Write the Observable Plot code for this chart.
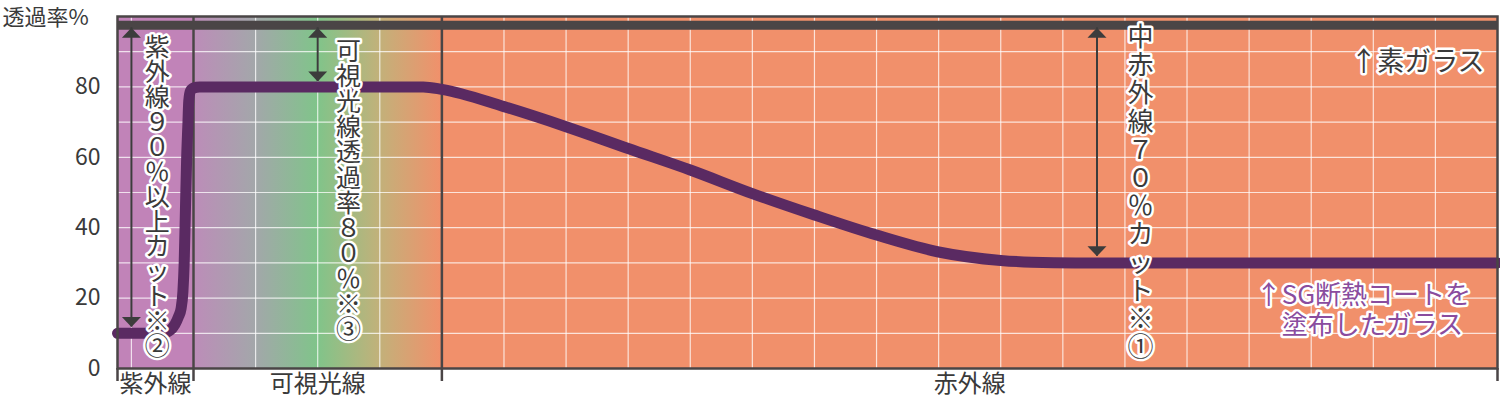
<!DOCTYPE html>
<html><head><meta charset="utf-8">
<script src="https://cdn.jsdelivr.net/npm/d3@7"></script>
<script src="https://cdn.jsdelivr.net/npm/@observablehq/plot@0.6"></script>
<style>body{margin:0;background:#fff}</style>
</head><body><div id="chart"></div>
<script>
// ---- data ----
const bandNames = ["紫外線", "可視光線", "赤外線"];
const bandStart = [257.6, 380, 780];   // nm
const bandEnd   = [380, 780, 2480];    // nm
const yTicks = [0, 20, 40, 60, 80];
const plainGlass = 97.5;               // 素ガラス 透過率
const sgWavelength = [257.6, 330, 342, 350, 356, 360, 363, 365, 367, 369, 370.8, 372.4, 375, 380, 390, 500, 600, 700, 750, 780, 880, 980, 1080, 1180, 1280, 1380, 1480, 1580, 1680, 1730, 1800, 2000, 2480];
const sgTransmission = [10, 10, 10.8, 12.5, 14.8, 17, 22, 30, 45, 60, 68.6, 76, 78.8, 79.7, 80, 80, 80, 80, 80, 79.3, 74.4, 68.7, 62.5, 56.4, 49.7, 43.6, 37.9, 33.1, 30.7, 30.2, 30, 30, 30];
const noteTexts = ["紫外線９０％以上カット※②", "可視光線透過率８０％※③", "中赤外線７０％カット※①"];
const noteArrowX = [280, 580, 1835];
const noteArrowLow = [11.8, 81.5, 31.9];

// ---- derived tables ----
const bands = bandNames.map((n, i) => ({name: n, x1: bandStart[i], x2: bandEnd[i]}));
const sg = sgWavelength.map((w, i) => ({w, t: sgTransmission[i]}));
const arrows = noteArrowX.map((x, i) => ({x, y1: noteArrowLow[i], y2: 96.8}));

const dark = "#4a4546";
const textDark = "#3a3a3a";
const font = "'Noto Sans CJK JP', 'Noto Sans', sans-serif";
const bandFill = ["#c183b8", "url(#visGrad)", "#f1906b"];
const noteX = [321.5, 629.6, 1905];
const noteY = [48.5, 50.4, 50.1];
const noteSize = [25, 25, 26];
const noteLineHeight = [0.995, 1.012, 1.085];

const headUp = {draw(ctx) { ctx.moveTo(0, 0); ctx.lineTo(9.5, 10); ctx.lineTo(-9.5, 10); ctx.closePath(); }};
const headDown = {draw(ctx) { ctx.moveTo(0, 0); ctx.lineTo(9.5, -10); ctx.lineTo(-9.5, -10); ctx.closePath(); }};

const outline = {stroke: "white", strokeWidth: 5, paintOrder: "stroke", strokeLinejoin: "round", fontFamily: font};
const vtext = s => Array.from(s).join("\n");

const svg = Plot.plot({
  width: 1500, height: 407,
  marginTop: 16, marginBottom: 39, marginLeft: 117, marginRight: 3,
  style: {fontFamily: font, background: "white", overflow: "visible"},
  x: {type: "linear", domain: [257.6, 2480], axis: null},
  y: {domain: [0, 100], axis: null},
  marks: [
    Plot.rect(bands, {x1: "x1", x2: "x2", y1: 0, y2: 100, fill: (d, i) => bandFill[i]}),
    Plot.gridX({ticks: d3.range(280, 2481, 100), stroke: "white", strokeOpacity: 0.75, strokeWidth: 1.2}),
    Plot.gridY({ticks: d3.range(10, 100, 10), stroke: "white", strokeOpacity: 0.75, strokeWidth: 1.2}),
    Plot.ruleX([380, 780], {y1: 0, y2: 100, stroke: dark, strokeWidth: 2.5}),
    Plot.axisX({ticks: [257.6, 380, 780, 2480], tickSize: 13, tickFormat: () => "", stroke: dark, strokeWidth: 2.5}),
    Plot.text(bands, {x: d => (d.x1 + d.x2) / 2, frameAnchor: "bottom", dy: 23, text: "name", fontSize: 24, fill: textDark, fontFamily: font}),
    Plot.axisY({ticks: yTicks, tickSize: 0, tickPadding: 17, fontSize: 23, color: textDark, fontFamily: font}),
    Plot.text(["透過率%"], {frameAnchor: "top-left", dx: -115, dy: 1, textAnchor: "start", lineAnchor: "middle", fontSize: 22, fill: textDark, fontFamily: font}),
    // plain glass
    Plot.ruleY([plainGlass], {stroke: dark, strokeWidth: 9}),
    // arrows
    Plot.ruleX(arrows, {x: "x", y1: "y1", y2: "y2", stroke: "#3c3c3c", strokeWidth: 2}),
    Plot.dot(arrows, {x: "x", y: "y2", symbol: headUp, fill: "#3c3c3c", stroke: null, r: 5}),
    Plot.dot(arrows, {x: "x", y: "y1", symbol: headDown, fill: "#3c3c3c", stroke: null, r: 5}),
    // SG curve
    Plot.line(sg, {x: "w", y: "t", curve: "monotone-x", stroke: "#5a2a62", strokeWidth: 11, strokeLinejoin: "round"}),
    // vertical notes (one character per line)
    ...noteTexts.map((s, i) => Plot.text([s], {x: noteX[i], y: noteY[i], text: d => vtext(d), lineAnchor: "middle", lineHeight: noteLineHeight[i], fontSize: noteSize[i], fill: textDark, ...outline})),
    // series labels
    Plot.text(["↑素ガラス"], {x: 2351, y: 87.1, lineAnchor: "middle", fontSize: 27, fill: textDark, ...outline}),
    Plot.text(["↑SG断熱コートを"], {x: 2264, y: 20.8, lineAnchor: "middle", fontSize: 26, fill: "#8a4c9e", ...outline}),
    Plot.text(["塗布したガラス"], {x: 2278.5, y: 12.2, lineAnchor: "middle", fontSize: 26, fill: "#8a4c9e", ...outline}),
    Plot.frame({stroke: dark, strokeWidth: 2.5})
  ]
});

const defs = document.createElementNS("http://www.w3.org/2000/svg", "defs");
defs.innerHTML = `<linearGradient id="visGrad" x1="0" x2="1" y1="0" y2="0">
  <stop offset="0" stop-color="#bd8cb9"/>
  <stop offset="0.25" stop-color="#a3a7aa"/>
  <stop offset="0.5" stop-color="#80c48a"/>
  <stop offset="0.75" stop-color="#c2b17a"/>
  <stop offset="1" stop-color="#f1906b"/>
</linearGradient>`;
svg.insertBefore(defs, svg.firstChild);
document.getElementById("chart").appendChild(svg);
</script>
</body></html>
